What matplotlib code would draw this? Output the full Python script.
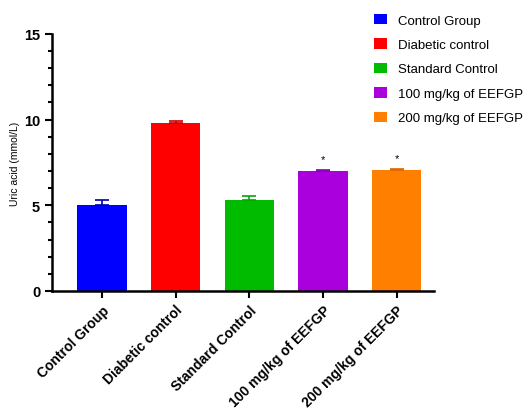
import numpy as np
import matplotlib.pyplot as plt
from matplotlib.ticker import MultipleLocator

plt.rcParams['font.family'] = ['Liberation Sans', 'DejaVu Sans']

groups = ["Control Group", "Diabetic control", "Standard Control",
          "100 mg/kg of EEFGP", "200 mg/kg of EEFGP"]
means = [5.0, 9.78, 5.33, 6.98, 7.03]
errs = [0.3, 0.13, 0.2, 0.09, 0.08]
stars = ["", "", "", "*", "*"]
colors = ["#0000ff", "#ff0000", "#00bb00", "#aa00dd", "#ff7f00"]
err_colors = ["#0000aa", "#cc0000", "#00aa00", "#8800bb", "#dd6600"]

fig = plt.figure(figsize=(5.3, 4.1), dpi=100)
ax = fig.add_axes([0.098, 0.288, 0.72, 0.627])

x = np.arange(len(groups))
for i in range(len(groups)):
    ax.bar(x[i], means[i], width=0.67, color=colors[i], label=groups[i])
    ax.errorbar(x[i], means[i], yerr=[[0], [errs[i]]], fmt='none',
                ecolor=err_colors[i], elinewidth=1.2, capsize=5, capthick=1.2)
    if stars[i]:
        ax.text(x[i], means[i] + errs[i] + 0.35, stars[i], ha='center',
                va='bottom', fontsize=8)

ax.set_xlim(-0.68, 4.5)
ax.set_ylim(0, 15)
ax.yaxis.set_major_locator(MultipleLocator(5))
ax.yaxis.set_minor_locator(MultipleLocator(1))
ax.set_xticks(x)
ax.set_xticklabels(groups, rotation=45, ha='right', rotation_mode='anchor',
                   fontsize=10, fontweight='bold')
for lab in ax.get_yticklabels():
    lab.set_fontweight('bold')
    lab.set_fontsize(10.5)
ax.set_ylabel("Uric acid (mmol/L)", fontsize=7.5, labelpad=3)

for s in ['top', 'right']:
    ax.spines[s].set_visible(False)
for s in ['left', 'bottom']:
    ax.spines[s].set_linewidth(1.8)
ax.tick_params(axis='both', which='major', width=1.5, length=5)
ax.tick_params(axis='y', which='minor', width=1.5, length=3)
ax.tick_params(axis='x', which='minor', bottom=False)

fig.legend(loc='upper left', bbox_to_anchor=(0.683, 0.993), frameon=False,
           fontsize=9.5, handlelength=1.0, handleheight=0.85,
           labelspacing=0.88, handletextpad=0.8)

fig.savefig("out.png", dpi=100)
